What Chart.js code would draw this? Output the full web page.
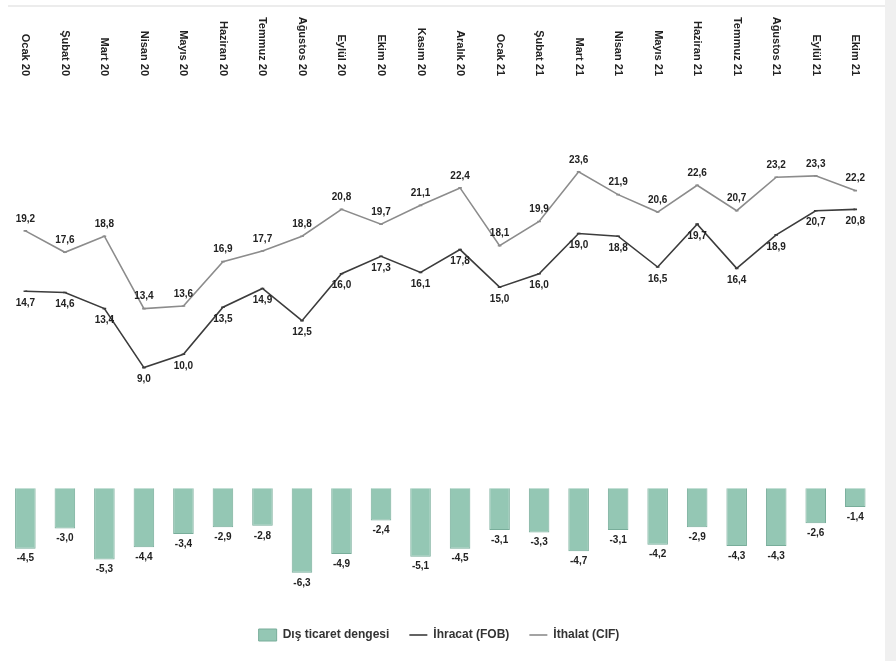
<!DOCTYPE html>
<html>
<head>
<meta charset="utf-8">
<script src="https://cdn.jsdelivr.net/npm/chart.js@4.4.0/dist/chart.umd.min.js"></script>
<style>
  html, body { margin: 0; padding: 0; background: #ffffff; }
  #kutu { position: relative; width: 885px; height: 661px; border-right: 11px solid #f0f0f0; }
  #kutu:before { content: ""; position: absolute; left: 8px; right: 0; top: 5px; height: 2px; background: #ececec; }
  canvas { display: block; }
</style>
</head>
<body>
<div id="kutu"><canvas id="grafik" width="885" height="661"></canvas></div>
<script>
const aylar = ["Ocak 20", "Şubat 20", "Mart 20", "Nisan 20", "Mayıs 20", "Haziran 20", "Temmuz 20", "Ağustos 20",
  "Eylül 20", "Ekim 20", "Kasım 20", "Aralık 20", "Ocak 21", "Şubat 21", "Mart 21", "Nisan 21", "Mayıs 21",
  "Haziran 21", "Temmuz 21", "Ağustos 21", "Eylül 21", "Ekim 21"];

const ithalat = [19.2, 17.6, 18.8, 13.4, 13.6, 16.9, 17.7, 18.8, 20.8, 19.7, 21.1, 22.4,
  18.1, 19.9, 23.6, 21.9, 20.6, 22.6, 20.7, 23.2, 23.3, 22.2];
const ihracat = [14.7, 14.6, 13.4, 9.0, 10.0, 13.5, 14.9, 12.5, 16.0, 17.3, 16.1, 17.8,
  15.0, 16.0, 19.0, 18.8, 16.5, 19.7, 16.4, 18.9, 20.7, 20.8];
const denge = [-4.5, -3.0, -5.3, -4.4, -3.4, -2.9, -2.8, -6.3, -4.9, -2.4, -5.1, -4.5,
  -3.1, -3.3, -4.7, -3.1, -4.2, -2.9, -4.3, -4.3, -2.6, -1.4];

function virgul(deger) {
  return deger.toFixed(1).replace(".", ",");
}

// ay etiketleri ustte, yukaridan asagi okunur; deger etiketleri noktalarin yaninda
const etiketler = {
  id: "etiketler",
  afterDatasetsDraw(chart) {
    const ctx = chart.ctx;
    const x = chart.scales.x;
    ctx.save();
    ctx.fillStyle = "#222";
    ctx.font = "bold 11px 'Liberation Sans', Arial, sans-serif";
    aylar.forEach((ay, i) => {
      ctx.save();
      ctx.translate(x.getPixelForValue(i), 76);
      ctx.rotate(Math.PI / 2);
      ctx.textAlign = "right";
      ctx.textBaseline = "middle";
      ctx.fillText(ay, 0, 0);
      ctx.restore();
    });

    ctx.font = "bold 10px 'Liberation Sans', Arial, sans-serif";
    ctx.textAlign = "center";
    ctx.textBaseline = "middle";
    chart.data.datasets.forEach((ds, d) => {
      const meta = chart.getDatasetMeta(d);
      meta.data.forEach((el, i) => {
        const deger = ds.data[i];
        let y;
        if (ds.type === "bar") y = el.y + 10;
        else if (ds.label.startsWith("İthalat")) y = el.y - 12;
        else y = el.y + 12;
        ctx.fillText(virgul(deger), el.x, y);
      });
    });
    ctx.restore();
  }
};

new Chart(document.getElementById("grafik"), {
  data: {
    labels: aylar,
    datasets: [
      {
        type: "bar",
        label: "Dış ticaret dengesi",
        data: denge,
        backgroundColor: "#94c7b4",
        borderColor: "#78ad9a",
        borderWidth: 1,
        barPercentage: 0.52,
        categoryPercentage: 1,
        pointStyle: "rect",
        order: 3
      },
      {
        type: "line",
        label: "İhracat (FOB)",
        data: ihracat,
        borderColor: "#3c3c3c",
        backgroundColor: "#3c3c3c",
        borderWidth: 1.6,
        pointRadius: 1.8,
        pointStyle: "line",
        tension: 0,
        order: 1
      },
      {
        type: "line",
        label: "İthalat (CIF)",
        data: ithalat,
        borderColor: "#8c8c8c",
        backgroundColor: "#8c8c8c",
        borderWidth: 1.6,
        pointRadius: 1.8,
        pointStyle: "line",
        tension: 0,
        order: 2
      }
    ]
  },
  options: {
    responsive: false,
    animation: false,
    layout: { padding: { top: 86, left: 3, right: 10, bottom: 10 } },
    scales: {
      x: { display: false, offset: true },
      y: { display: false, min: -9, max: 30 }
    },
    plugins: {
      legend: {
        position: "bottom",
        labels: {
          usePointStyle: true,
          pointStyleWidth: 18,
          color: "#333",
          padding: 20,
          sort: (a, b) => a.datasetIndex - b.datasetIndex,
          font: { family: "'Liberation Sans', Arial, sans-serif", size: 12, weight: "bold" }
        }
      },
      tooltip: { enabled: false }
    }
  },
  plugins: [etiketler]
});
</script>
</body>
</html>
